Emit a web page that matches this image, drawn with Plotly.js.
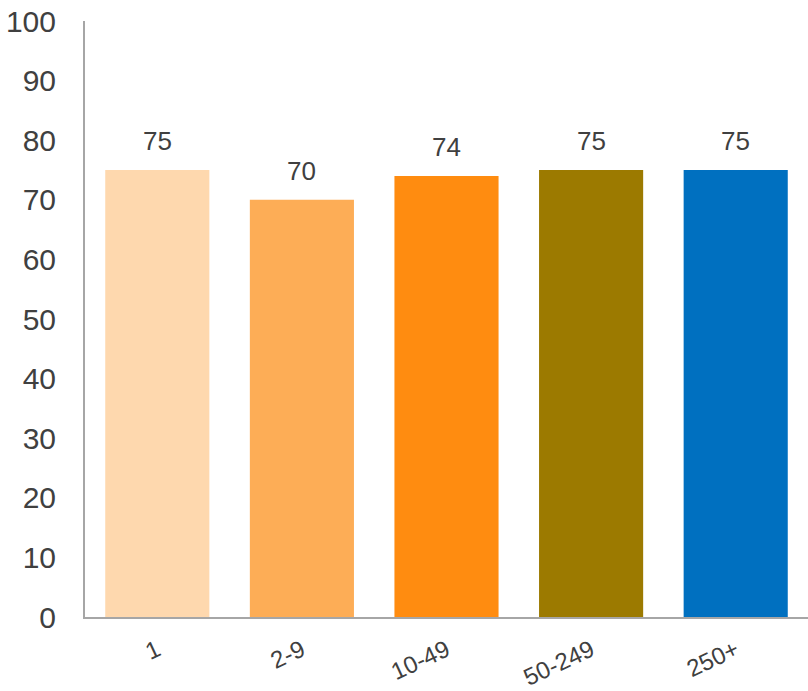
<!DOCTYPE html>
<html>
<head>
<meta charset="utf-8">
<script src="https://cdn.plot.ly/plotly-3.0.1.min.js"></script>
<style>
  html, body { margin: 0; padding: 0; background: #fff; }
  #chart { width: 808px; height: 691px; }
</style>
</head>
<body>
<div id="chart"></div>
<script>
// Company size bands and their scores
const categories = ["1", "2-9", "10-49", "50-249", "250+"];
const values = [75, 70, 74, 75, 75];
const barColors = ["#FED8AE", "#FDAD56", "#FF8C10", "#9C7A00", "#0070C0"];
const yTicks = [0, 10, 20, 30, 40, 50, 60, 70, 80, 90, 100];

const FONT = "Liberation Sans, Arial, sans-serif";
const TEXT_COLOR = "#404040";

const trace = {
  type: "bar",
  x: categories,
  y: values,
  marker: { color: barColors },
  hoverinfo: "skip"
};

// Value labels sit a little above each bar (x given as category index)
const valueLabels = categories.map((c, i) => ({
  x: i,
  y: values[i],
  xref: "x",
  yref: "y",
  text: String(values[i]),
  showarrow: false,
  yanchor: "bottom",
  yshift: 12,
  font: { family: FONT, size: 26, color: TEXT_COLOR }
}));

const layout = {
  width: 808,
  height: 691,
  margin: { l: 85, r: 0, t: 21, b: 74 },
  paper_bgcolor: "#fff",
  plot_bgcolor: "#fff",
  showlegend: false,
  bargap: 0.28,
  font: { family: FONT, color: TEXT_COLOR },
  annotations: valueLabels,
  xaxis: {
    type: "category",
    showline: true,
    linecolor: "#a6a6a6",
    linewidth: 2,
    showgrid: false,
    ticks: "",
    tickangle: -25,
    ticklabelstandoff: 8,
    tickfont: { size: 24, color: TEXT_COLOR },
    fixedrange: true
  },
  yaxis: {
    range: [0, 100],
    tickvals: yTicks,
    ticktext: yTicks.map(String),
    showline: true,
    linecolor: "#a6a6a6",
    linewidth: 2,
    showgrid: false,
    zeroline: false,
    ticks: "",
    ticklen: 0,
    ticklabelstandoff: 21,
    tickfont: { size: 30, color: TEXT_COLOR },
    fixedrange: true
  }
};

Plotly.newPlot("chart", [trace], layout, { displayModeBar: false, staticPlot: true });
</script>
</body>
</html>
